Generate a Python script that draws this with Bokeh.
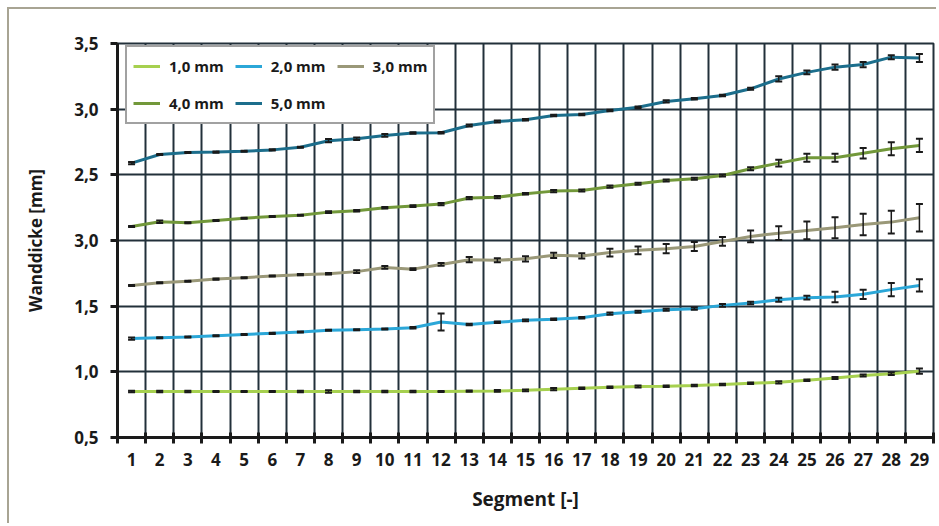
from bokeh.plotting import figure
from bokeh.models import (Range1d, FixedTicker, CustomJSTickFormatter, Legend, LegendItem,
                          ColumnDataSource, Whisker, TeeHead)
from bokeh.embed import file_html
from bokeh.resources import INLINE

# ---------------- data ----------------
segments = list(range(1, 30))
x_tick_labels = [str(s) for s in segments]
segment_bounds = [s - 0.5 for s in segments] + [29.5]
y_ticks = [0.5, 1.0, 1.5, 2.0, 2.5, 3.0, 3.5]
y_tick_labels = ["0,5", "1,0", "1,5", "3,0", "2,5", "3,0", "3,5"]

series_names = ["1,0 mm", "2,0 mm", "3,0 mm", "4,0 mm", "5,0 mm"]
series_colors = ["#a6d04f", "#2ba7d8", "#9a9878", "#72983a", "#1c6e8c"]

wall_1mm = [0.850, 0.850, 0.850, 0.850, 0.850, 0.850, 0.850, 0.850, 0.850, 0.850,
            0.850, 0.850, 0.853, 0.855, 0.859, 0.868, 0.875, 0.882, 0.888, 0.890,
            0.896, 0.904, 0.913, 0.920, 0.936, 0.953, 0.972, 0.985, 1.005]
err_1mm = [0.006, 0.006, 0.006, 0.004, 0.004, 0.004, 0.006, 0.010, 0.006, 0.006,
           0.006, 0.004, 0.004, 0.006, 0.006, 0.008, 0.006, 0.006, 0.008, 0.006,
           0.006, 0.006, 0.006, 0.008, 0.006, 0.008, 0.008, 0.010, 0.020]

wall_2mm = [1.253, 1.260, 1.265, 1.275, 1.285, 1.293, 1.303, 1.316, 1.321, 1.326,
            1.336, 1.379, 1.361, 1.377, 1.392, 1.400, 1.412, 1.443, 1.458, 1.473,
            1.481, 1.506, 1.524, 1.549, 1.565, 1.570, 1.590, 1.626, 1.658]
err_2mm = [0.008, 0.004, 0.004, 0.004, 0.004, 0.004, 0.004, 0.004, 0.004, 0.004,
           0.006, 0.065, 0.006, 0.006, 0.006, 0.006, 0.006, 0.008, 0.008, 0.008,
           0.008, 0.010, 0.010, 0.015, 0.015, 0.040, 0.035, 0.050, 0.047]

wall_3mm = [1.658, 1.679, 1.689, 1.706, 1.717, 1.729, 1.740, 1.747, 1.763, 1.795,
            1.782, 1.818, 1.854, 1.849, 1.861, 1.887, 1.882, 1.908, 1.925, 1.938,
            1.955, 1.993, 2.031, 2.056, 2.077, 2.097, 2.122, 2.140, 2.173]
err_3mm = [0.004, 0.004, 0.004, 0.004, 0.004, 0.004, 0.004, 0.006, 0.010, 0.010,
           0.006, 0.010, 0.020, 0.015, 0.020, 0.020, 0.020, 0.030, 0.030, 0.035,
           0.034, 0.033, 0.045, 0.053, 0.067, 0.080, 0.082, 0.086, 0.105]

wall_4mm = [2.107, 2.143, 2.135, 2.153, 2.170, 2.183, 2.193, 2.216, 2.227, 2.250,
            2.262, 2.277, 2.323, 2.330, 2.356, 2.376, 2.381, 2.410, 2.432, 2.457,
            2.470, 2.495, 2.546, 2.589, 2.630, 2.630, 2.665, 2.699, 2.724]
err_4mm = [0.004, 0.010, 0.004, 0.004, 0.004, 0.004, 0.004, 0.006, 0.006, 0.006,
           0.006, 0.008, 0.008, 0.008, 0.006, 0.008, 0.008, 0.008, 0.008, 0.008,
           0.008, 0.008, 0.012, 0.025, 0.030, 0.030, 0.040, 0.050, 0.050]

wall_5mm = [2.589, 2.655, 2.670, 2.673, 2.680, 2.690, 2.710, 2.760, 2.775, 2.800,
            2.818, 2.820, 2.876, 2.906, 2.920, 2.952, 2.960, 2.990, 3.015, 3.059,
            3.079, 3.104, 3.155, 3.230, 3.280, 3.320, 3.340, 3.396, 3.390]
err_5mm = [0.008, 0.004, 0.004, 0.004, 0.004, 0.004, 0.004, 0.012, 0.010, 0.010,
           0.006, 0.006, 0.008, 0.008, 0.006, 0.006, 0.006, 0.006, 0.006, 0.008,
           0.006, 0.006, 0.008, 0.020, 0.015, 0.020, 0.020, 0.015, 0.030]

series_values = [wall_1mm, wall_2mm, wall_3mm, wall_4mm, wall_5mm]
series_errors = [err_1mm, err_2mm, err_3mm, err_4mm, err_5mm]

# ---------------- figure ----------------
FONT = "Open Sans"
INK = "#1a1a1a"
GRID = "#22303a"

LOOKUP = ("const i = tick_values.findIndex(t => Math.abs(t - tick) < 1e-6);"
          " return i < 0 ? '' : tick_labels[i];")

p = figure(width=929, height=516,
           x_range=Range1d(0.5, 29.5), y_range=Range1d(0.5, 3.5),
           output_backend="svg", toolbar_location=None,
           min_border_left=108, min_border_top=34, min_border_right=5, min_border_bottom=88)

# thin grey frame around the whole graphic (top and left edges visible)
p.styles = {"margin-left": "7px", "margin-top": "7px",
            "border-left": "2px solid #a8a493", "border-top": "2px solid #a8a493"}

p.background_fill_color = "white"
p.border_fill_color = "white"
p.outline_line_color = GRID
p.outline_line_width = 2

# x axis: labels at segment centres, tick marks at segment boundaries
p.xaxis.ticker = FixedTicker(ticks=segments, minor_ticks=segment_bounds)
p.xaxis.formatter = CustomJSTickFormatter(
    args=dict(tick_values=segments, tick_labels=x_tick_labels), code=LOOKUP)
p.xaxis.major_tick_line_color = None
p.xaxis.minor_tick_in = 5
p.xaxis.minor_tick_out = 6
p.xaxis.minor_tick_line_width = 3
p.xaxis.minor_tick_line_color = INK
p.xaxis.major_label_standoff = 9

# y axis
p.yaxis.ticker = FixedTicker(ticks=y_ticks)
p.yaxis.formatter = CustomJSTickFormatter(
    args=dict(tick_values=y_ticks, tick_labels=y_tick_labels), code=LOOKUP)
p.yaxis.major_tick_in = 0
p.yaxis.major_tick_out = 7
p.yaxis.major_tick_line_width = 3
p.yaxis.major_tick_line_color = INK
p.yaxis.minor_tick_line_color = None
p.yaxis.major_label_standoff = 12

for ax in (p.xaxis, p.yaxis):
    ax.axis_line_width = 3
    ax.axis_line_color = INK
    ax.major_label_text_font = FONT
    ax.major_label_text_font_style = "bold"
    ax.major_label_text_font_size = "17px"
    ax.major_label_text_color = INK
    ax.axis_label_text_font = FONT
    ax.axis_label_text_font_style = "bold"
    ax.axis_label_text_color = INK

p.xaxis.axis_label = "Segment [-]"
p.xaxis.axis_label_text_font_size = "19px"
p.xaxis.axis_label_standoff = 17
p.yaxis.axis_label = "Wanddicke [mm]"
p.yaxis.axis_label_text_font_size = "17px"
p.yaxis.axis_label_standoff = 24

# grid
p.xgrid.grid_line_color = None
p.xgrid.minor_grid_line_color = GRID
p.xgrid.minor_grid_line_width = 2
p.ygrid.grid_line_color = GRID
p.ygrid.grid_line_width = 2

# series
items = []
for name, color, vals, errs in zip(series_names, series_colors, series_values, series_errors):
    src = ColumnDataSource(dict(
        x=segments, y=vals,
        upper=[v + e for v, e in zip(vals, errs)],
        lower=[v - e for v, e in zip(vals, errs)]))
    r = p.line("x", "y", source=src, line_color=color, line_width=3)
    items.append(LegendItem(label=name, renderers=[r]))
    w = Whisker(source=src, base="x", upper="upper", lower="lower",
                line_color=INK, line_width=1.5, level="annotation",
                upper_head=TeeHead(size=7, line_color=INK, line_width=2),
                lower_head=TeeHead(size=7, line_color=INK, line_width=2))
    p.add_layout(w)

legend = Legend(items=items, location=(8, 313), orientation="horizontal", ncols=3,
                margin=0, padding=6, spacing=11,
                glyph_width=27, glyph_height=26, label_height=26, label_standoff=9,
                label_text_font=FONT, label_text_font_style="bold",
                label_text_font_size="15px", label_text_color=INK,
                border_line_color="#444444", border_line_width=2,
                background_fill_color="white", background_fill_alpha=1.0)
p.add_layout(legend)

open("out.html", "w").write(file_html(p, INLINE))
